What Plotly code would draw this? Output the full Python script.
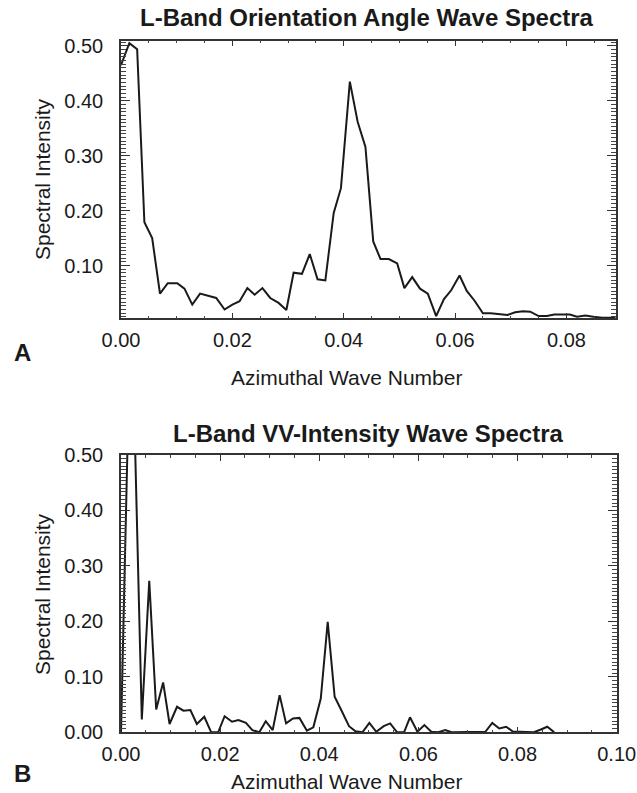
import plotly.graph_objects as go

# ---------------- data ----------------
wave_a = [0.0, 0.0015, 0.0029, 0.0042, 0.0056, 0.0070, 0.0084, 0.0101, 0.0114, 0.0128,
          0.0142, 0.0158, 0.0171, 0.0186, 0.0200, 0.0213, 0.0227, 0.0240, 0.0254, 0.0268,
          0.0283, 0.0297, 0.0310, 0.0325, 0.0339, 0.0353, 0.0367, 0.0382, 0.0395, 0.0411,
          0.0425, 0.0439, 0.0453, 0.0466, 0.0481, 0.0496, 0.0509, 0.0523, 0.0537, 0.0551,
          0.0566, 0.0580, 0.0593, 0.0608, 0.0621, 0.0635, 0.0650, 0.0664, 0.0680, 0.0694,
          0.0708, 0.0722, 0.0735, 0.0750, 0.0765, 0.0778, 0.0792, 0.0806, 0.0819, 0.0834,
          0.0848, 0.0864, 0.0877, 0.0888]
spec_a = [0.465, 0.505, 0.494, 0.179, 0.150, 0.049, 0.068, 0.068, 0.058, 0.029,
          0.049, 0.044, 0.041, 0.020, 0.029, 0.035, 0.059, 0.047, 0.059, 0.041,
          0.032, 0.019, 0.087, 0.085, 0.121, 0.075, 0.073, 0.196, 0.241, 0.435,
          0.362, 0.316, 0.144, 0.112, 0.112, 0.104, 0.059, 0.079, 0.058, 0.049,
          0.008, 0.039, 0.055, 0.082, 0.054, 0.036, 0.013, 0.013, 0.012, 0.010,
          0.015, 0.017, 0.016, 0.008, 0.008, 0.011, 0.011, 0.011, 0.007, 0.009,
          0.007, 0.005, 0.005, 0.005]

wave_b = [0.0, 0.0014, 0.0028, 0.0042, 0.0057, 0.0071, 0.0085, 0.0098, 0.0113, 0.0126,
          0.0140, 0.0153, 0.0168, 0.0182, 0.0196, 0.0209, 0.0224, 0.0237, 0.0252, 0.0265,
          0.0279, 0.0292, 0.0306, 0.0320, 0.0333, 0.0347, 0.0360, 0.0375, 0.0388, 0.0403,
          0.0417, 0.0431, 0.0446, 0.0460, 0.0473, 0.0487, 0.0501, 0.0515, 0.0530, 0.0543,
          0.0557, 0.0571, 0.0583, 0.0598, 0.0612, 0.0626, 0.0640, 0.0654, 0.0667, 0.0681,
          0.0696, 0.0710, 0.0724, 0.0735, 0.0749, 0.0763, 0.0777, 0.0791, 0.0805, 0.0819,
          0.0833, 0.0847, 0.0860, 0.0874]
spec_b = [0.0, 0.55, 0.53, 0.023, 0.273, 0.041, 0.090, 0.015, 0.046, 0.039,
          0.040, 0.015, 0.028, 0.0, 0.0, 0.029, 0.019, 0.022, 0.017, 0.004,
          0.0, 0.020, 0.004, 0.067, 0.016, 0.025, 0.026, 0.003, 0.009, 0.061,
          0.199, 0.064, 0.037, 0.011, 0.002, 0.0, 0.017, 0.001, 0.011, 0.016,
          0.0, 0.0, 0.027, 0.001, 0.013, 0.001, 0.0, 0.004, 0.0, 0.0,
          0.0, 0.001, 0.001, 0.001, 0.017, 0.007, 0.010, 0.001, 0.001, 0.0,
          0.0, 0.005, 0.010, 0.0]

title_a = "L-Band Orientation Angle Wave Spectra"
title_b = "L-Band VV-Intensity Wave Spectra"
x_title = "Azimuthal Wave Number"
y_title = "Spectral Intensity"
x_ticks_a = [0.0, 0.02, 0.04, 0.06, 0.08]
x_ticks_b = [0.0, 0.02, 0.04, 0.06, 0.08, 0.10]
y_ticks_a = [0.1, 0.2, 0.3, 0.4, 0.5]
y_ticks_b = [0.0, 0.1, 0.2, 0.3, 0.4, 0.5]

# ---------------- layout helpers ----------------
W, H = 637, 793
FONT = "Liberation Sans, Arial, sans-serif"
INK = "#1a1a1a"


def px(x):
    return x / W


def py(y):
    return 1 - y / H


fig = go.Figure()
fig.add_trace(go.Scatter(x=wave_a, y=spec_a, mode="lines",
                         line=dict(color=INK, width=2), xaxis="x", yaxis="y",
                         showlegend=False))
fig.add_trace(go.Scatter(x=wave_b, y=spec_b, mode="lines",
                         line=dict(color=INK, width=2), xaxis="x2", yaxis="y2",
                         showlegend=False))

common_x = dict(showline=True, linecolor="#333", linewidth=1.5, mirror="allticks",
                ticks="inside", ticklen=6, tickwidth=1.2, tickcolor="#333",
                showgrid=False, zeroline=False, tickformat=".2f",
                tickfont=dict(family=FONT, size=20, color=INK),
                minor=dict(ticks="inside", dtick=0.005, ticklen=3, tickwidth=1, tickcolor="#444"),
                automargin=False, ticklabelstandoff=3)
common_y = dict(showline=True, linecolor="#333", linewidth=1.5, mirror="allticks",
                ticks="inside", ticklen=9, tickwidth=1.2, tickcolor="#333",
                showgrid=False, zeroline=False, tickformat=".2f",
                tickfont=dict(family=FONT, size=20, color=INK),
                minor=dict(ticks="inside", dtick=0.1 / 15, ticklen=5, tickwidth=1, tickcolor="#444"),
                automargin=False, ticklabelstandoff=12)

fig.update_layout(
    width=W, height=H,
    margin=dict(l=0, r=0, t=0, b=0),
    paper_bgcolor="white", plot_bgcolor="white",
    xaxis=dict(domain=[px(121), px(616)], range=[0, 0.0889], anchor="y",
               tickvals=x_ticks_a, **common_x),
    yaxis=dict(domain=[py(318.3), py(40.7)], range=[0.004, 0.5096], anchor="x",
               tickvals=y_ticks_a, **common_y),
    xaxis2=dict(domain=[px(121), px(616.7)], range=[0, 0.1], anchor="y2",
                tickvals=x_ticks_b, **common_x),
    yaxis2=dict(domain=[py(732.3), py(455)], range=[0, 0.5], anchor="x2",
                tickvals=y_ticks_b, **common_y),
)

ann = []
def label(text, x, y, size, bold=False, angle=0):
    ann.append(dict(text=f"<b>{text}</b>" if bold else text, x=px(x), y=py(y),
                    xref="paper", yref="paper", showarrow=False,
                    xanchor="center", yanchor="middle", textangle=angle,
                    font=dict(family=FONT, size=size, color=INK)))

label(title_a, 367, 17, 24, bold=True)
label("A", 22, 352, 24, bold=True)
label(x_title, 346, 377, 21)
label(y_title, 42, 179, 21, angle=-90)
label(title_b, 368, 433, 24, bold=True)
label("B", 22, 773, 24, bold=True)
label(x_title, 346, 781, 21)
label(y_title, 42, 594, 21, angle=-90)
fig.update_layout(annotations=ann)

fig.write_html("out.html", config={"displayModeBar": False},
               post_script="document.body.style.margin='0';")
